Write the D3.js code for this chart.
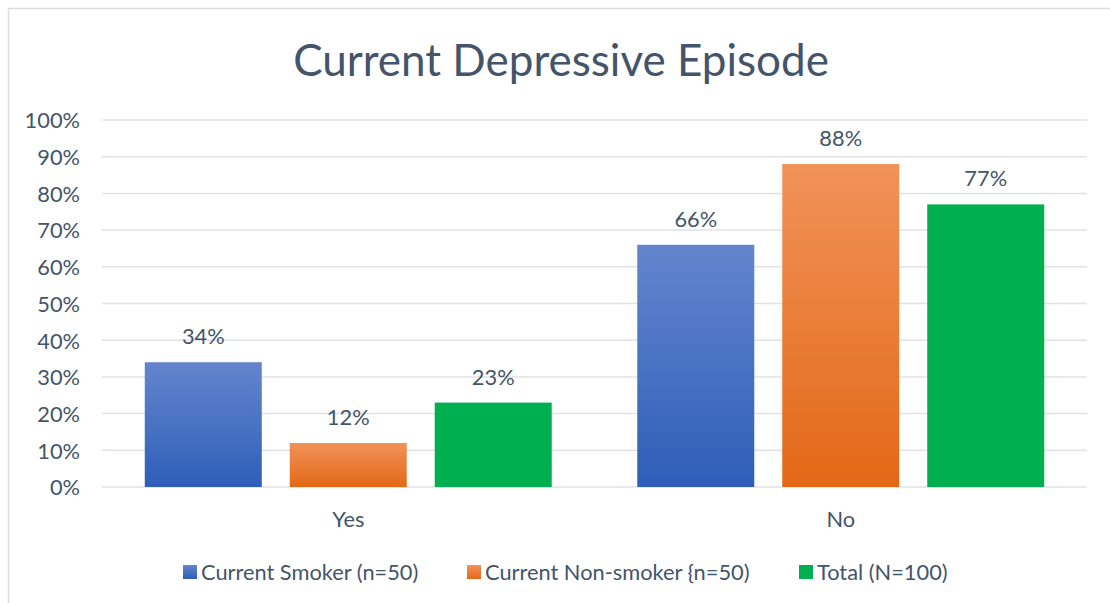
<!DOCTYPE html>
<html><head><meta charset="utf-8">
<script src="https://cdn.jsdelivr.net/npm/d3@7"></script>
<style>
html,body{margin:0;padding:0;background:#fff;}
text{font-family:Lato,"Open Sans",sans-serif;fill:#44546a;}
</style></head>
<body><svg id="c" width="1110" height="603"></svg>
<script>
const categories = ["Yes", "No"];
const seriesNames = ["Current Smoker (n=50)", "Current Non-smoker {n=50)", "Total (N=100)"];
const smoker = [0.34, 0.66];
const nonSmoker = [0.12, 0.88];
const total = [0.23, 0.77];
const tickValues = [0,0.1,0.2,0.3,0.4,0.5,0.6,0.7,0.8,0.9,1.0];
const title = "Current Depressive Episode";

const seriesValues = [smoker, nonSmoker, total];
const svg = d3.select("#c");
const FS = "21.8px";

const defs = svg.append("defs");
const grads = [
  {id:"gBlue", top:"#6485cd", bot:"#2e5eb9"},
  {id:"gOrange", top:"#f19259", bot:"#e36816"},
  {id:"gGreen", top:"#00b050", bot:"#00b050"}
];
grads.forEach(g=>{
  const lg = defs.append("linearGradient").attr("id",g.id).attr("x1",0).attr("y1",0).attr("x2",0).attr("y2",1);
  lg.append("stop").attr("offset","0%").attr("stop-color",g.top);
  lg.append("stop").attr("offset","50%").attr("stop-color",d3.interpolateRgb(g.top,g.bot)(0.5));
  lg.append("stop").attr("offset","100%").attr("stop-color",g.bot);
});
const fills = ["url(#gBlue)","url(#gOrange)","url(#gGreen)"];

// chart border
svg.append("path").attr("d","M8.5,603 L8.5,8.5 L1110,8.5").attr("fill","none").attr("stroke","#d9dce1").attr("stroke-width",1.5);

const y = d3.scaleLinear().domain([0,1]).range([487,120]);
const x0 = d3.scaleBand().domain(categories).range([102,1087]).paddingInner(0).paddingOuter(0);
const x1 = d3.scaleBand().domain(d3.range(3)).range([0,x0.bandwidth()]).paddingInner(0.193).paddingOuter(0.295);

// gridlines
svg.append("g").selectAll("line").data(tickValues).join("line")
  .attr("x1",102).attr("x2",1087)
  .attr("y1",d=>y(d)).attr("y2",d=>y(d))
  .attr("stroke","#dfe2e7").attr("stroke-width",1.5);

// y axis
const yAxis = svg.append("g").attr("transform","translate(80,0)")
  .call(d3.axisLeft(y).tickValues(tickValues).tickSize(0).tickPadding(0).tickFormat(d3.format(".0%")));
yAxis.select(".domain").remove();
yAxis.selectAll("text").style("font-size",FS).attr("dy","0.36em").style("fill","#44546a").style("font-family","Lato");

// bars
const groups = svg.append("g").selectAll("g").data(categories).join("g")
  .attr("transform",d=>`translate(${x0(d)},0)`);
groups.selectAll("rect").data((d,i)=>seriesValues.map((s,k)=>({k, v:s[i]}))).join("rect")
  .attr("x",d=>x1(d.k)).attr("width",x1.bandwidth())
  .attr("y",d=>y(d.v)).attr("height",d=>y(0)-y(d.v))
  .attr("fill",d=>fills[d.k]);
groups.selectAll("text.lbl").data((d,i)=>seriesValues.map((s,k)=>({k, v:s[i]}))).join("text")
  .attr("class","lbl")
  .attr("x",d=>x1(d.k)+x1.bandwidth()/2).attr("y",d=>y(d.v)-18)
  .attr("text-anchor","middle").style("font-size",FS)
  .text(d=>d3.format(".0%")(d.v));

// x axis labels
const xAxis = svg.append("g").attr("transform","translate(0,487)")
  .call(d3.axisBottom(x0).tickSize(0).tickPadding(0));
xAxis.select(".domain").remove();
xAxis.selectAll("text").attr("dy",null).attr("y",40).style("font-size",FS).style("fill","#44546a").style("font-family","Lato");

// title
svg.append("text").attr("x",561).attr("y",76).attr("text-anchor","middle")
  .style("font-size","44px").text(title);

// legend
const legendX = [183, 467, 799];
const lg = svg.append("g").selectAll("g").data(seriesNames).join("g")
  .attr("transform",(d,i)=>`translate(${legendX[i]},565)`);
lg.append("rect").attr("width",14).attr("height",14).attr("fill",(d,i)=>fills[i]);
lg.append("text").attr("x",18).attr("y",14.5).style("font-size",FS).text(d=>d);
</script></body></html>
